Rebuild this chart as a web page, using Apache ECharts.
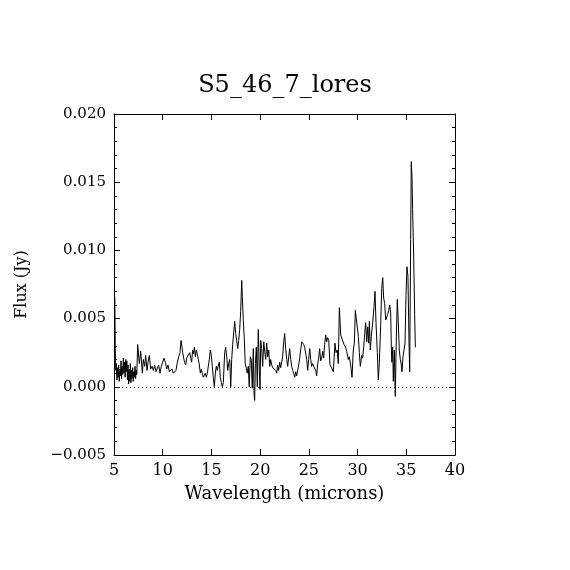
<!doctype html>
<html>
<head>
<meta charset="utf-8">
<title>S5_46_7_lores</title>
<script src="https://cdn.jsdelivr.net/npm/echarts@6/dist/echarts.min.js"></script>
<style>
  html, body { margin: 0; padding: 0; background: #fff; }
  #chart { width: 570px; height: 570px; }
</style>
</head>
<body>
<div id="chart"></div>
<script type="text/javascript">
// spectrum
var wavelength = [
  5.08, 5.13, 5.18, 5.24, 5.30, 5.36, 5.42, 5.48, 5.54, 5.60,
  5.66, 5.72, 5.78, 5.84, 5.90, 5.96, 6.02, 6.08, 6.14, 6.20,
  6.26, 6.32, 6.38, 6.44, 6.50, 6.56, 6.62, 6.68, 6.74, 6.80,
  6.86, 6.92, 6.98, 7.04, 7.10, 7.16, 7.22, 7.28, 7.34, 7.43,
  7.60, 7.74, 7.91, 8.01, 8.15, 8.25, 8.39, 8.49, 8.63, 8.76,
  8.90, 9.04, 9.17, 9.31, 9.45, 9.58, 9.72, 9.86, 10.00, 10.13,
  10.27, 10.41, 10.54, 10.68, 10.82, 10.95, 11.09, 11.23, 11.36, 11.50,
  11.64, 11.77, 11.88, 11.98, 12.05, 12.15, 12.25, 12.36, 12.46, 12.56,
  12.66, 12.77, 12.87, 12.97, 13.07, 13.14, 13.25, 13.35, 13.45, 13.55,
  13.66, 13.76, 13.86, 13.96, 14.07, 14.17, 14.27, 14.37, 14.48, 14.58,
  14.68, 14.78, 14.89, 14.99, 15.09, 15.19, 15.30, 15.40, 15.50, 15.61,
  15.71, 15.81, 15.91, 16.02, 16.12, 16.22, 16.36, 16.46, 16.57, 16.67,
  16.77, 16.88, 16.98, 17.08, 17.18, 17.29, 17.39, 17.49, 17.59, 17.70,
  17.80, 17.90, 18.00, 18.11, 18.17, 18.27, 18.37, 18.47, 18.58, 18.68,
  18.78, 18.88, 18.99, 19.09, 19.19, 19.30, 19.37, 19.44, 19.51, 19.61,
  19.71, 19.81, 19.92, 19.99, 20.06, 20.16, 20.26, 20.37, 20.47, 20.57,
  20.67, 20.78, 20.88, 20.98, 21.08, 21.19, 21.29, 21.39, 21.49, 21.60,
  21.70, 21.80, 21.90, 22.01, 22.11, 22.21, 22.31, 22.42, 22.52, 22.62,
  22.73, 22.83, 22.93, 23.03, 23.14, 23.24, 23.34, 23.44, 23.55, 23.65,
  23.75, 23.85, 23.96, 24.06, 24.16, 24.27, 24.37, 24.47, 24.57, 24.68,
  24.78, 24.88, 24.98, 25.09, 25.19, 25.29, 25.39, 25.50, 25.60, 25.70,
  25.80, 25.91, 26.01, 26.11, 26.21, 26.32, 26.42, 26.52, 26.62, 26.73,
  26.83, 26.93, 27.04, 27.17, 27.34, 27.51, 27.68, 27.79, 27.92, 28.02,
  28.13, 28.27, 28.47, 28.61, 28.78, 28.88, 29.05, 29.15, 29.29, 29.43,
  29.56, 29.67, 29.77, 29.91, 30.08, 30.18, 30.28, 30.42, 30.52, 30.63,
  30.73, 30.83, 30.94, 31.04, 31.14, 31.21, 31.31, 31.41, 31.55, 31.69,
  31.79, 31.89, 32.03, 32.13, 32.23, 32.37, 32.48, 32.58, 32.68, 32.78,
  32.89, 32.99, 33.09, 33.19, 33.30, 33.40, 33.47, 33.52, 33.60, 33.67,
  33.77, 33.87, 33.98, 34.08, 34.18, 34.28, 34.39, 34.49, 34.56, 34.66,
  34.77, 34.87, 34.97, 35.07, 35.17, 35.28, 35.35, 35.45, 35.51, 35.59,
  35.65, 35.76, 35.86, 35.93
];
var flux = [
  0.0066, 0.0028, 0.0012, 0.0017, 0.0005, 0.0014, 0.0007, 0.0016, 0.0004, 0.0013,
  0.0008, 0.0019, 0.0006, 0.0015, 0.0009, 0.0021, 0.0010, 0.0018, 0.0007, 0.0020,
  0.0011, 0.0019, 0.0005, 0.0016, 0.0002, 0.0013, 0.0004, 0.0017, 0.0003, 0.0012,
  0.0006, 0.0014, 0.0004, 0.0011, 0.0007, 0.0015, 0.0006, 0.0012, 0.0009, 0.0031,
  0.0017, 0.0026, 0.0010, 0.0020, 0.0015, 0.0023, 0.0012, 0.0018, 0.0023, 0.0013,
  0.0015, 0.0012, 0.0016, 0.0011, 0.0012, 0.0016, 0.0010, 0.0015, 0.0016, 0.0021,
  0.0018, 0.0013, 0.0016, 0.0011, 0.0012, 0.0013, 0.0010, 0.0009, 0.0012, 0.0018,
  0.0022, 0.0025, 0.0034, 0.0029, 0.0025, 0.0021, 0.0018, 0.0016, 0.0021, 0.0020,
  0.0020, 0.0025, 0.0021, 0.0018, 0.0027, 0.0024, 0.0029, 0.0022, 0.0027, 0.0027,
  0.0020, 0.0016, 0.0010, 0.0013, 0.0009, 0.0007, 0.0008, 0.0010, 0.0007, 0.0010,
  0.0015, 0.0020, 0.0027, 0.0023, 0.0015, 0.0007, 0.0000, 0.0010, 0.0015, 0.0012,
  0.0016, 0.0018, 0.0007, 0.0003, 0.0000, 0.0003, 0.0025, 0.0029, 0.0022, 0.0012,
  0.0017, 0.0020, 0.0000, 0.0020, 0.0031, 0.0040, 0.0048, 0.0039, 0.0034, 0.0028,
  0.0034, 0.0042, 0.0055, 0.0078, 0.0066, 0.0049, 0.0036, 0.0017, 0.0018, 0.0010,
  0.0015, 0.0000, 0.0022, 0.0020, -0.0001, 0.0028, -0.0005, -0.0010, 0.0017, 0.0029,
  0.0000, 0.0042, 0.0012, -0.0002, 0.0034, 0.0028, 0.0015, 0.0033, 0.0026, 0.0020,
  0.0032, 0.0022, 0.0027, 0.0015, 0.0020, 0.0016, 0.0014, 0.0015, 0.0015, 0.0012,
  0.0010, 0.0016, 0.0012, 0.0018, 0.0014, 0.0015, 0.0022, 0.0033, 0.0039, 0.0028,
  0.0020, 0.0015, 0.0022, 0.0028, 0.0020, 0.0015, 0.0012, 0.0010, 0.0007, 0.0011,
  0.0008, 0.0012, 0.0016, 0.0021, 0.0027, 0.0033, 0.0032, 0.0031, 0.0029, 0.0028,
  0.0020, 0.0012, 0.0020, 0.0028, 0.0020, 0.0015, 0.0017, 0.0015, 0.0016, 0.0012,
  0.0008, 0.0017, 0.0021, 0.0028, 0.0019, 0.0021, 0.0026, 0.0021, 0.0031, 0.0038,
  0.0033, 0.0036, 0.0034, 0.0016, 0.0014, 0.0011, 0.0032, 0.0025, 0.0027, 0.0017,
  0.0058, 0.0038, 0.0037, 0.0031, 0.0029, 0.0026, 0.0020, 0.0022, 0.0016, 0.0007,
  0.0027, 0.0032, 0.0056, 0.0055, 0.0037, 0.0025, 0.0015, 0.0023, 0.0021, 0.0029,
  0.0039, 0.0047, 0.0033, 0.0044, 0.0032, 0.0048, 0.0027, 0.0037, 0.0047, 0.0059,
  0.0070, 0.0047, 0.0025, 0.0005, 0.0017, 0.0045, 0.0072, 0.0080, 0.0065, 0.0061,
  0.0049, 0.0050, 0.0053, 0.0056, 0.0060, 0.0054, 0.0027, 0.0018, 0.0029, 0.0004,
  0.0027, -0.0007, 0.0037, 0.0064, 0.0047, 0.0027, 0.0020, 0.0016, 0.0011, 0.0022,
  0.0027, 0.0032, 0.0067, 0.0088, 0.0081, 0.0033, 0.0011, 0.0108, 0.0165, 0.0153,
  0.0130, 0.0095, 0.0053, 0.0029
];

// axis ranges and ticks
var xMin = 5, xMax = 40, xStep = 5;
var yMin = -0.005, yMax = 0.020, yStep = 0.005;
var titleText = 'S5_46_7_lores';
var xName = 'Wavelength (microns)';
var yName = 'Flux (Jy)';

var points = wavelength.map(function (w, i) { return [w, flux[i]]; });

var font = "'DejaVu Serif', serif";
var black = '#000';

function yLabel(v) {
  var s = Math.abs(v).toFixed(3);
  return v < -1e-9 ? '\u2212' + s : s;
}

var chart = echarts.init(document.getElementById('chart'), null, { renderer: 'canvas' });

var frameX = {
  type: 'value', min: xMin, max: xMax, interval: xStep,
  axisLine: { show: true, onZero: false, lineStyle: { color: black, width: 1 } },
  axisTick: { show: true, inside: true, length: 6, lineStyle: { color: black } },
  minorTick: { show: false },
  splitLine: { show: false }
};
var frameY = {
  type: 'value', min: yMin, max: yMax, interval: yStep,
  axisLine: { show: true, onZero: false, lineStyle: { color: black, width: 1 } },
  axisTick: { show: true, inside: true, length: 6, lineStyle: { color: black } },
  minorTick: { show: true, splitNumber: 5, length: 3, lineStyle: { color: black } },
  splitLine: { show: false }
};

chart.setOption({
  animation: false,
  backgroundColor: '#fff',
  title: {
    text: titleText,
    left: 'center',
    top: 69,
    textStyle: { fontFamily: font, fontSize: 24, fontWeight: 'normal', color: black }
  },
  grid: { left: 114, right: 115, top: 114, bottom: 115, containLabel: false },
  xAxis: [
    Object.assign({}, frameX, {
      position: 'bottom',
      name: xName,
      nameLocation: 'middle',
      nameGap: 30,
      nameTextStyle: { fontFamily: font, fontSize: 18, color: black },
      axisLabel: { show: true, margin: 8, fontFamily: font, fontSize: 16, color: black }
    }),
    Object.assign({}, frameX, { position: 'top', axisLabel: { show: false } })
  ],
  yAxis: [
    Object.assign({}, frameY, {
      position: 'left',
      name: yName,
      nameLocation: 'middle',
      nameGap: 84,
      nameRotate: 90,
      nameTextStyle: { fontFamily: font, fontSize: 16, color: black },
      axisLabel: { show: true, margin: 8, fontFamily: font, fontSize: 15, color: black, formatter: yLabel }
    }),
    Object.assign({}, frameY, { position: 'right', axisLabel: { show: false } })
  ],
  series: [
    {
      name: 'flux',
      type: 'line',
      xAxisIndex: 0,
      yAxisIndex: 0,
      data: points,
      symbol: 'none',
      smooth: false,
      lineStyle: { color: black, width: 1 },
      // dotted zero level
      markLine: {
        silent: true,
        symbol: ['none', 'none'],
        label: { show: false },
        lineStyle: { color: black, width: 1, type: [1, 3] },
        data: [{ yAxis: 0 }]
      }
    }
  ]
});
</script>
</body>
</html>
